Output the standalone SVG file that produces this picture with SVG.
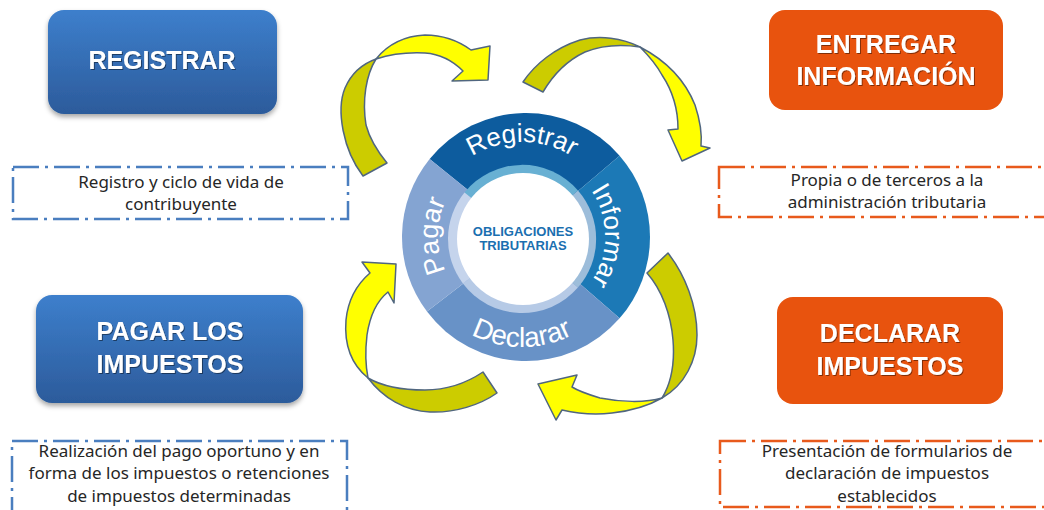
<svg xmlns="http://www.w3.org/2000/svg" width="1044" height="510" viewBox="0 0 1044 510">
<defs>
<linearGradient id="gBlue" x1="0" y1="0" x2="0" y2="1">
<stop offset="0" stop-color="#3d7fcc"/>
<stop offset="1" stop-color="#2c5b9b"/>
</linearGradient>
<filter id="shadow" x="-10%" y="-10%" width="120%" height="130%">
<feDropShadow dx="0" dy="3" stdDeviation="2.5" flood-color="#000" flood-opacity="0.35"/>
</filter>
<filter id="tshadow" x="-5%" y="-10%" width="110%" height="130%">
<feDropShadow dx="1" dy="1" stdDeviation="0.6" flood-color="#000" flood-opacity="0.45"/>
</filter>
<path id="pReg" d="M433.67,203.85 A94,94 0 0 1 610.33,203.85"/>
<path id="pInf" d="M550.39,158 A83,83 0 0 1 550.39,314"/>
<path id="pDec" d="M417.7,273.96 A111,111 0 0 0 626.3,273.96"/>
<path id="pPag" d="M486.5,312.13 A84,84 0 0 1 486.5,159.87"/>
</defs>
<style>
.title{font-family:"Liberation Sans",Arial,sans-serif;font-weight:bold;font-size:25px;fill:#fff;text-anchor:middle}
.desc{font-family:"Noto Sans","Open Sans",sans-serif;font-size:17px;fill:#262626;text-anchor:middle}
.dashB{fill:none;stroke:#4a7ebf;stroke-width:2.5;stroke-dasharray:26 6 3 6}
.dashO{fill:none;stroke:#e85a1c;stroke-width:2.5;stroke-dasharray:26 6 3 6}
.ring{font-family:"Liberation Sans",Arial,sans-serif;font-size:26px;fill:#fff}
.center{font-family:"Liberation Sans",Arial,sans-serif;font-weight:bold;font-size:13px;fill:#1a6fb0;text-anchor:middle}
.arrO{fill:#cccc00;stroke:#50667f;stroke-width:1.5;stroke-linejoin:round}
.arrY{fill:#ffff00;stroke:#50667f;stroke-width:1.5;stroke-linejoin:round}
</style>
<rect width="1044" height="510" fill="#fff"/>

<g id="node-registrar">
<rect x="48" y="10" width="229" height="104" rx="16" fill="url(#gBlue)" filter="url(#shadow)"/>
<text class="title" x="162" y="69" filter="url(#tshadow)">REGISTRAR</text>
</g>
<g id="desc-registrar">
<rect class="dashB" x="13" y="167" width="335" height="52"/>
<text class="desc" x="181" y="188">Registro y ciclo de vida de</text>
<text class="desc" x="181" y="210">contribuyente</text>
</g>

<g id="node-entregar">
<rect x="769" y="10" width="234" height="100" rx="16" fill="#e8530e"/>
<text class="title" x="886" y="53" filter="url(#tshadow)">ENTREGAR</text>
<text class="title" x="886" y="85" filter="url(#tshadow)">INFORMACIÓN</text>
</g>
<g id="desc-entregar">
<rect class="dashO" x="719" y="167" width="330" height="50"/>
<text class="desc" x="887" y="186">Propia o de terceros a la</text>
<text class="desc" x="887" y="208">administración tributaria</text>
</g>

<g id="node-pagar">
<rect x="36" y="295" width="267" height="108" rx="16" fill="url(#gBlue)" filter="url(#shadow)"/>
<text class="title" x="170" y="340" filter="url(#tshadow)">PAGAR LOS</text>
<text class="title" x="170" y="373" filter="url(#tshadow)">IMPUESTOS</text>
</g>
<g id="desc-pagar">
<rect class="dashB" x="12" y="441" width="335" height="75"/>
<text class="desc" x="179" y="457">Realización del pago oportuno y en</text>
<text class="desc" x="179" y="479">forma de los impuestos o retenciones</text>
<text class="desc" x="179" y="502">de impuestos determinadas</text>
</g>

<g id="node-declarar">
<rect x="777" y="297" width="226" height="107" rx="16" fill="#e8530e"/>
<text class="title" x="890" y="342" filter="url(#tshadow)">DECLARAR</text>
<text class="title" x="890" y="375" filter="url(#tshadow)">IMPUESTOS</text>
</g>
<g id="desc-declarar">
<rect class="dashO" x="720" y="441" width="330" height="66"/>
<text class="desc" x="887" y="457">Presentación de formularios de</text>
<text class="desc" x="887" y="479">declaración de impuestos</text>
<text class="desc" x="887" y="502">establecidos</text>
</g>

<g id="node-cycle">
<path d="M525,236 L429.64,158.97 A124,124 0 0 1 619.58,155.64 Z" fill="#0d5c9e"/>
<path d="M525,236 L619.58,155.64 A124,124 0 0 1 619.58,318.36 Z" fill="#1c79b6"/>
<path d="M525,236 L619.58,318.36 A124,124 0 0 1 426.97,311.62 Z" fill="#6892c7"/>
<path d="M525,236 L426.97,311.62 A124,124 0 0 1 429.64,158.97 Z" fill="#84a4d2"/>
<path d="M522,239 L464.5,192.4 A74,74 0 0 1 578.0,190.4 Z" fill="#68b0d3"/>
<path d="M522,239 L578.0,190.4 A74,74 0 0 1 577.9,287.6 Z" fill="#9dbdda"/>
<path d="M522,239 L577.9,287.6 A74,74 0 0 1 462.9,283.5 Z" fill="#b6cae6"/>
<path d="M522,239 L462.9,283.5 A74,74 0 0 1 464.5,192.4 Z" fill="#c5d4ec"/>
<circle cx="523" cy="239" r="66" fill="#fff"/>
<text class="ring"><textPath href="#pReg" startOffset="50%" text-anchor="middle">Registrar</textPath></text>
<text class="ring"><textPath href="#pInf" startOffset="50%" text-anchor="middle">Informar</textPath></text>
<text class="ring" style="font-size:28px"><textPath href="#pDec" startOffset="50%" text-anchor="middle">Declarar</textPath></text>
<text class="ring" style="font-size:27px"><textPath href="#pPag" startOffset="50%" text-anchor="middle">Pagar</textPath></text>
<text class="center" x="523" y="236">OBLIGACIONES</text>
<text class="center" x="523" y="250">TRIBUTARIAS</text>
</g>

<g id="connectors">
<path class="arrO" d="M363,176 C343,150 336,110 345,88 C352,72 362,64 376,59 C366,75 362,100 366,125 C370,140 378,152 387,163 Z"/>
<path class="arrY" d="M376,59 C388,44 405,36 425,35 C445,35 460,42 471,50 L490,46 L488,80 L452,81 L463,71 C452,60 440,54 425,53 C405,52 388,55 376,59 Z"/>
<path class="arrO" d="M523,82 C535,64 555,48 580,40 C600,35 622,38 640,47 C620,44 600,46 585,52 C568,60 553,75 543,92 Z"/>
<path class="arrY" d="M640,47 C665,60 685,80 695,105 C700,120 702,135 701,146 L710,148 L682,161 L668,130 L678,129 C678,110 672,90 662,75 C656,64 648,55 640,47 Z"/>
<path class="arrO" d="M668,253 C685,275 697,305 697,335 C697,360 685,385 662,398 C670,385 675,365 673,340 C671,315 662,290 647,273 Z"/>
<path class="arrY" d="M662,398 C645,403 620,402 600,398 C590,395 580,392 572,387 L577,375 L538,384 L556,420 L562,410 C575,413 595,415 612,413 C630,411 648,406 662,398 Z"/>
<path class="arrO" d="M368,378 C380,385 400,390 425,390 C445,390 465,384 483,372 L497,393 C480,405 455,413 430,412 C405,411 383,398 368,378 Z"/>
<path class="arrY" d="M368,378 C352,365 344,345 346,320 C348,300 356,285 370,273 L362,262 L396,264 L394,303 L388,292 C378,300 370,315 367,335 C365,352 366,368 368,378 Z"/>
</g>
</svg>
